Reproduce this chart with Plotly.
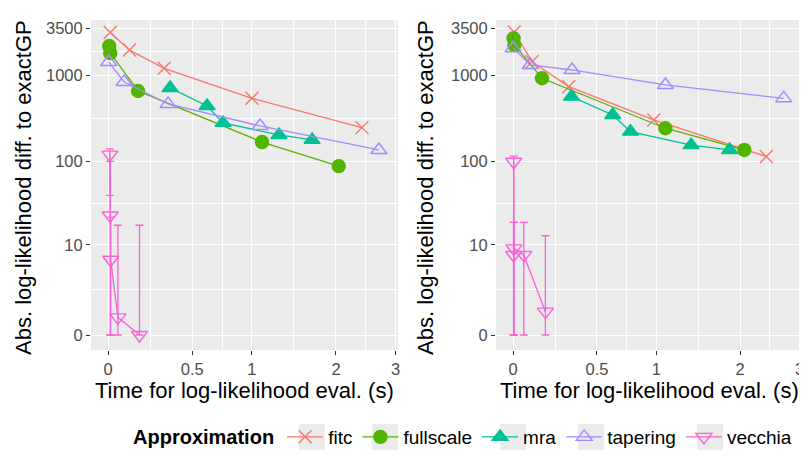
import numpy as np
import plotly.graph_objects as go

# ---------------- data ----------------
series_names = ["fitc", "fullscale", "mra", "tapering", "vecchia"]

# left panel
fitc_t_L = [0.01, 0.108, 0.31, 1.0, 2.40]
fitc_v_L = [3100, 1950, 1200, 540, 247]
fullscale_t_L = [0.005, 0.01, 0.155, 1.10, 2.04]
fullscale_v_L = [2170, 1800, 656, 168, 88]
mra_t_L = [0.348, 0.611, 0.740, 1.279, 1.673]
mra_v_L = [711, 440, 280, 203, 178]
tapering_t_L = [0.002, 0.080, 0.335, 1.08, 2.69]
tapering_v_L = [1420, 834, 464, 258, 136]
vecchia_t_L = [0.008, 0.010, 0.012, 0.048, 0.163]
vecchia_v_L = [120, 23, 6.4, 0.6, 0.0]
vecchia_lo_L = [40, 0, 0, 0, 0]
vecchia_hi_L = [140, 100, 22, 17.5, 17.5]

# right panel
fitc_t_R = [0.005, 0.096, 0.309, 0.975, 2.405]
fitc_v_R = [3150, 1430, 736, 303, 114]
fullscale_t_R = [0.002, 0.006, 0.150, 1.089, 2.06]
fullscale_v_R = [2670, 2230, 920, 243, 136]
mra_t_R = [0.326, 0.619, 0.764, 1.366, 1.851]
mra_v_R = [564, 346, 222, 155, 136]
tapering_t_R = [0.0, 0.087, 0.330, 1.089, 2.703]
tapering_v_R = [2045, 1311, 1147, 770, 540]
vecchia_t_R = [0.002, 0.003, 0.004, 0.053, 0.169]
vecchia_v_R = [7.4, 99, 9.0, 7.4, 0.86]
vecchia_lo_R = [0, 0, 0, 0, 0]
vecchia_hi_R = [19, 115, 19, 19, 13]

x_tick_vals = [0, 0.5, 1, 2, 3]
x_tick_text = ["0", "0.5", "1", "2", "3"]
y_tick_vals = [0, 10, 100, 1000, 3500]
y_tick_text = ["0", "10", "100", "1000", "3500"]

x_title = "Time for log-likelihood eval. (s)"
y_title = "Abs. log-likelihood diff. to exactGP"
legend_title = "Approximation"

# ---------------- styling ----------------
colors = {"fitc": "#F8766D", "fullscale": "#53B400", "mra": "#00C094",
          "tapering": "#A58AFF", "vecchia": "#FB61D7"}
symbols = {"fitc": "x-thin-open", "fullscale": "circle", "mra": "triangle-up",
           "tapering": "triangle-up-open", "vecchia": "triangle-down-open"}
sizes = {"fitc": 13, "fullscale": 13, "mra": 14, "tapering": 14, "vecchia": 14}

# page geometry: the plot div sits 8px inside the page (default body margin)
OFF = 8
W, H = 807 - OFF, 456 - OFF


def px(xpix):
    return (xpix - OFF) / W


def py(ypix):
    return 1 - (ypix - OFF) / H


def tr(a):
    """log10(x + 1) transform used for both axes."""
    return np.log10(np.asarray(a, dtype=float) + 1.0)


panels = {
    "L": {"fitc": (fitc_t_L, fitc_v_L), "fullscale": (fullscale_t_L, fullscale_v_L),
          "mra": (mra_t_L, mra_v_L), "tapering": (tapering_t_L, tapering_v_L),
          "vecchia": (vecchia_t_L, vecchia_v_L, vecchia_lo_L, vecchia_hi_L)},
    "R": {"fitc": (fitc_t_R, fitc_v_R), "fullscale": (fullscale_t_R, fullscale_v_R),
          "mra": (mra_t_R, mra_v_R), "tapering": (tapering_t_R, tapering_v_R),
          "vecchia": (vecchia_t_R, vecchia_v_R, vecchia_lo_R, vecchia_hi_R)},
}

fig = go.Figure()
for pi, (pk, pdata) in enumerate(panels.items()):
    xa = "x" if pi == 0 else "x2"
    ya = "y" if pi == 0 else "y2"
    for name in series_names:
        d = pdata[name]
        t, v = d[0], d[1]
        order = np.argsort(t, kind="stable")
        xs = tr(t)[order]
        ys = tr(v)[order]
        kw = {}
        if name == "vecchia":
            lo = tr(d[2])[order]
            hi = tr(d[3])[order]
            kw["error_y"] = dict(type="data", symmetric=False, array=hi - ys,
                                 arrayminus=ys - lo, color=colors[name],
                                 thickness=1.3, width=4)
        mline = dict(color=colors[name], width=1.4)
        fig.add_trace(go.Scatter(
            x=xs, y=ys, mode="lines+markers", name=name,
            xaxis=xa, yaxis=ya, showlegend=(pi == 0), legendgroup=name,
            line=dict(color=colors[name], width=1.3),
            marker=dict(symbol=symbols[name], size=sizes[name], color=colors[name],
                        line=mline),
            **kw))

xt = tr(x_tick_vals)
yt = tr(y_tick_vals)
x_minor = list((xt[:-1] + xt[1:]) / 2)
y_minor = list((yt[:-1] + yt[1:]) / 2)

tickfont = dict(family="Liberation Sans, Arial, sans-serif", size=16.5, color="#4D4D4D")
common_x = dict(range=[-0.036, 0.607], tickmode="array", tickvals=list(xt), ticktext=x_tick_text,
                showgrid=True, gridcolor="white", gridwidth=1.1, zeroline=False,
                ticks="outside", ticklen=4, tickcolor="#333333", tickwidth=1,
                tickfont=tickfont, showline=False, automargin=False,
                minor=dict(tickmode="array", tickvals=x_minor, showgrid=True,
                           gridcolor="white", gridwidth=0.55, ticks=""))
common_y = dict(range=[-0.173, 3.637], tickmode="array", tickvals=list(yt), ticktext=y_tick_text,
                showgrid=True, gridcolor="white", gridwidth=1.1, zeroline=False,
                ticks="outside", ticklen=4, tickcolor="#333333", tickwidth=1,
                tickfont=tickfont, showline=False, automargin=False,
                domain=[py(350), py(20)],
                minor=dict(tickmode="array", tickvals=y_minor, showgrid=True,
                           gridcolor="white", gridwidth=0.55, ticks=""))

# grey legend-key backgrounds (as in ggplot), centred on the legend symbols
key_centers_px = [312, 385, 513, 591, 710]
shapes = [dict(type="rect", xref="paper", yref="paper",
               x0=px(c - 13), x1=px(c + 13), y0=py(450), y1=py(424),
               fillcolor="#EBEBEB", line=dict(width=0), layer="below")
          for c in key_centers_px]

fig.update_layout(
    template="none",
    width=W, height=H,
    margin=dict(l=0, r=0, t=0, b=0, autoexpand=False),
    paper_bgcolor="white", plot_bgcolor="#EBEBEB",
    font=dict(family="Liberation Sans, Arial, sans-serif", color="black"),
    xaxis=dict(common_x, domain=[px(91), px(398)], anchor="y"),
    yaxis=dict(common_y, anchor="x"),
    xaxis2=dict(common_x, domain=[px(496), px(802)], anchor="y2"),
    yaxis2=dict(common_y, anchor="x2"),
    shapes=shapes,
    legend=dict(orientation="h", x=px(464), xanchor="center", y=py(437), yanchor="middle",
                title=dict(text="<b>" + legend_title + "</b>", side="left",
                           font=dict(size=20, color="black")),
                font=dict(size=19, color="black"), itemwidth=36,
                bgcolor="rgba(0,0,0,0)", tracegroupgap=0),
)

ann_font = dict(family="Liberation Sans, Arial, sans-serif", size=22, color="black")
for cx in [(91 + 398) / 2, (496 + 802) / 2]:
    fig.add_annotation(text=x_title, x=px(cx), y=py(390), xref="paper", yref="paper",
                       showarrow=False, font=ann_font, xanchor="center", yanchor="middle")
for cx in [23, 425]:
    fig.add_annotation(text=y_title, x=px(cx), y=py(188), xref="paper", yref="paper",
                       showarrow=False, font=ann_font, textangle=-90,
                       xanchor="center", yanchor="middle")

fig.write_html("out.html")
